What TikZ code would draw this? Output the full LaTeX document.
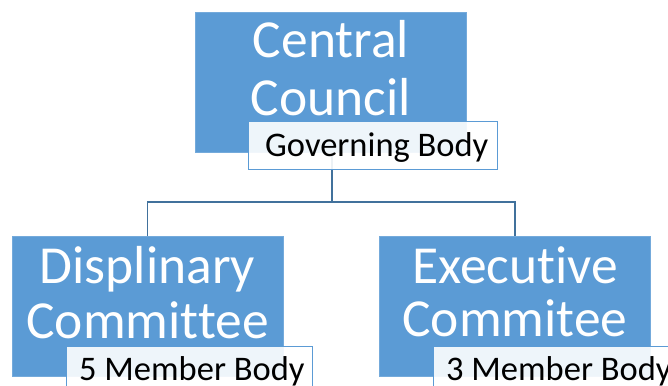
\documentclass[tikz,border=0pt]{standalone}
\usepackage{fontspec}
\setmainfont{Carlito}[Ligatures={NoCommon,NoContextual}]
\definecolor{boxblue}{HTML}{5B9BD5}
\definecolor{linkblue}{HTML}{41719C}
\begin{document}
\begin{tikzpicture}[x=1pt,y=-1pt,
  unitbox/.style={draw=boxblue!85!white,line width=0.6pt,fill=boxblue,minimum width=271pt,minimum height=140pt,inner sep=0pt,outer sep=0pt},
  bigtext/.style={text=white,font=\fontsize{53.5}{60}\selectfont,inner sep=0pt,anchor=base},
  tagbox/.style={draw=boxblue,line width=1pt,fill=white,fill opacity=0.9,inner sep=0pt,outer sep=0pt},
  tagtext/.style={text=black,font=\fontsize{34.5}{40}\selectfont,inner sep=0pt,anchor=base west},
  link/.style={draw=linkblue,line width=1.8pt}]
\useasboundingbox (0,0) rectangle (668,385);
% main boxes
\node[unitbox] (cc) at (331,82.5) {};
\node[unitbox] (dc) at (147.5,306) {};
\node[unitbox] (ec) at (515,306) {};
% connectors
\coordinate (split) at (331.7,202);
\draw[link] (cc.south -| split) -- (split);
\draw[link] (dc.north) |- (split) -| (ec.north);
% tag boxes
\node[tagbox,minimum width=249pt,minimum height=48pt] (ccTag) at (372.5,145) {};
\node[tagbox,minimum width=246pt,minimum height=50pt] (dcTag) at (189,371) {};
\node[tagbox,minimum width=250pt,minimum height=50pt] (ecTag) at (558,371) {};
% texts
\node[bigtext] (ccA) at (331,58) {Central};
\node[bigtext] (ccB) at (331,115) {Council};
\node[bigtext] (dcA) at (147.5,283) {Displinary};
\node[bigtext] (dcB) at (147.5,338) {Committee};
\node[bigtext] (ecA) at (515,283) {Executive};
\node[bigtext] (ecB) at (515,336) {Commitee};
\node[tagtext] (ccT) at (265,156) {Governing Body};
\node[tagtext] (dcT) at (79,380) {5 Member Body};
\node[tagtext] (ecT) at (446,380) {3 Member Body};
\end{tikzpicture}
\end{document}
